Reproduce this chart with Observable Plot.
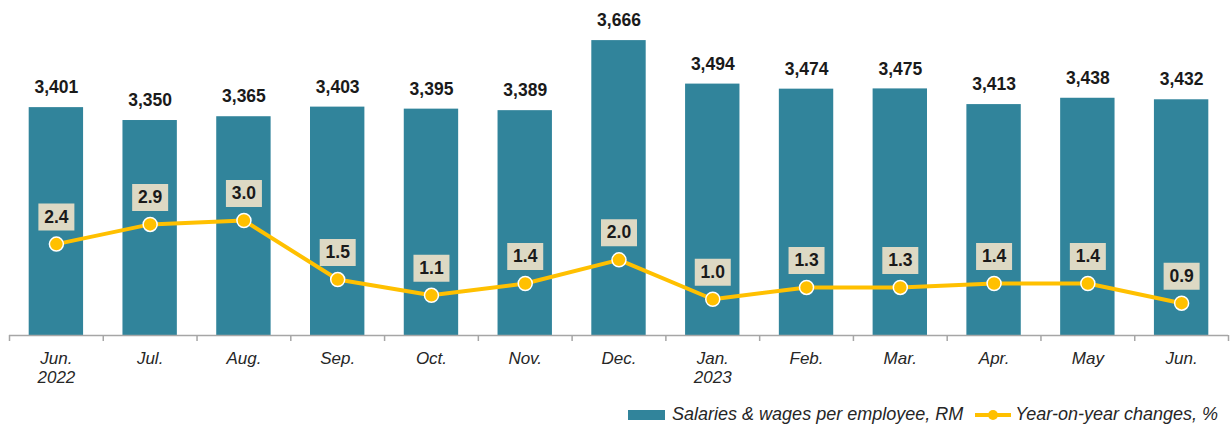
<!DOCTYPE html>
<html>
<head>
<meta charset="utf-8">
<script src="https://cdn.jsdelivr.net/npm/d3@7"></script>
<script src="https://cdn.jsdelivr.net/npm/@observablehq/plot@0.6"></script>
<style>
  html, body { margin: 0; padding: 0; background: #fff; }
  body { width: 1231px; height: 437px; overflow: hidden; font-family: "Liberation Sans", Arial, sans-serif; }
  #legend { display: flex; justify-content: flex-end; align-items: center; height: 37px; padding-right: 13px; font-size: 18px; font-style: italic; color: #262626; margin-top: -4px; }
  .sw-bar { display: inline-block; width: 37px; height: 10px; background: #31849B; margin-right: 7px; }
  .sw-line { display: inline-block; position: relative; width: 36px; height: 4px; background: #FFC000; margin: 0 4px 0 12px; }
  .sw-line::after { content: ""; position: absolute; left: 13px; top: -3px; width: 10px; height: 10px; border-radius: 50%; background: #FFC000; }
</style>
</head>
<body>
<div id="chart"></div>
<div id="legend"><span class="sw-bar"></span><span>Salaries &amp; wages per employee, RM</span><span class="sw-line"></span><span>Year-on-year changes, %</span></div>
<script>
const months = ["Jun.", "Jul.", "Aug.", "Sep.", "Oct.", "Nov.", "Dec.", "Jan.", "Feb.", "Mar.", "Apr.", "May", "Jun."];
const years  = ["2022", "", "", "", "", "", "", "2023", "", "", "", "", ""];
const salaries = [3401, 3350, 3365, 3403, 3395, 3389, 3666, 3494, 3474, 3475, 3413, 3438, 3432];
const yoy = [2.4, 2.9, 3.0, 1.5, 1.1, 1.4, 2.0, 1.0, 1.3, 1.3, 1.4, 1.4, 0.9];

const keys = months.map((m, i) => i);
const data = keys.map(i => ({key: i, salary: salaries[i], yoy: yoy[i]}));

const W = 1231, H = 400, mL = 9, mR = 3, mT = 10, mB = 65;
const yDomain = [2500, 3785];
const yoyDomain = [0.08, 8.33];
const toY = d3.scaleLinear(yoyDomain, yDomain);
const step = (W - mL - mR) / keys.length;
const unitsPerPx = (yDomain[1] - yDomain[0]) / (H - mT - mB);

const font = '"Liberation Sans", Arial, sans-serif';
const boxSymbol = { draw(ctx) { ctx.rect(-18, -13.5, 36, 27); } };

const chart = Plot.plot({
  width: W, height: H,
  marginLeft: mL, marginRight: mR, marginTop: mT, marginBottom: mB,
  style: { fontFamily: font, background: "#fff", overflow: "visible" },
  x: { type: "band", domain: keys, paddingInner: 0.42, paddingOuter: 0.21, align: 0.5, round: false },
  y: { domain: yDomain, axis: null },
  marks: [
    Plot.barY(data, { x: "key", y1: yDomain[0], y2: "salary", fill: "#31849B" }),
    Plot.ruleY([yDomain[0]], { stroke: "#a6a6a6", strokeWidth: 1.5 }),
    Plot.ruleX(keys, { x: d => d, y1: yDomain[0], y2: yDomain[0] - 6 * unitsPerPx, dx: -step / 2, stroke: "#a6a6a6", strokeWidth: 1.5 }),
    Plot.ruleX([keys[keys.length - 1]], { x: d => d, y1: yDomain[0], y2: yDomain[0] - 6 * unitsPerPx, dx: step / 2, stroke: "#a6a6a6", strokeWidth: 1.5 }),
    Plot.axisX({
      tickSize: 0, tickPadding: 15,
      tickFormat: i => years[i] ? months[i] + "\n" + years[i] : months[i],
      fontSize: 17, fontStyle: "italic", lineHeight: 1.12, fill: "#262626", label: null
    }),
    Plot.text(data, { x: "key", y: "salary", text: d => d3.format(",")(d.salary), dy: -20, fontSize: 17.5, fontWeight: "bold", fill: "#1a1a1a" }),
    Plot.line(data, { x: "key", y: d => toY(d.yoy), stroke: "#FFC000", strokeWidth: 4, strokeLinejoin: "round" }),
    Plot.dot(data, { x: "key", y: d => toY(d.yoy), r: 7, fill: "#FFC000", stroke: "#fff", strokeWidth: 1.5 }),
    Plot.dot(data, { x: "key", y: d => toY(d.yoy), symbol: boxSymbol, r: 10, fill: "#DDD9C4", stroke: "none", dy: -27 }),
    Plot.text(data, { x: "key", y: d => toY(d.yoy), text: d => d.yoy.toFixed(1), dy: -27, fontSize: 17.5, fontWeight: "bold", fill: "#1a1a1a" })
  ]
});
document.getElementById("chart").appendChild(chart);
</script>
</body>
</html>
